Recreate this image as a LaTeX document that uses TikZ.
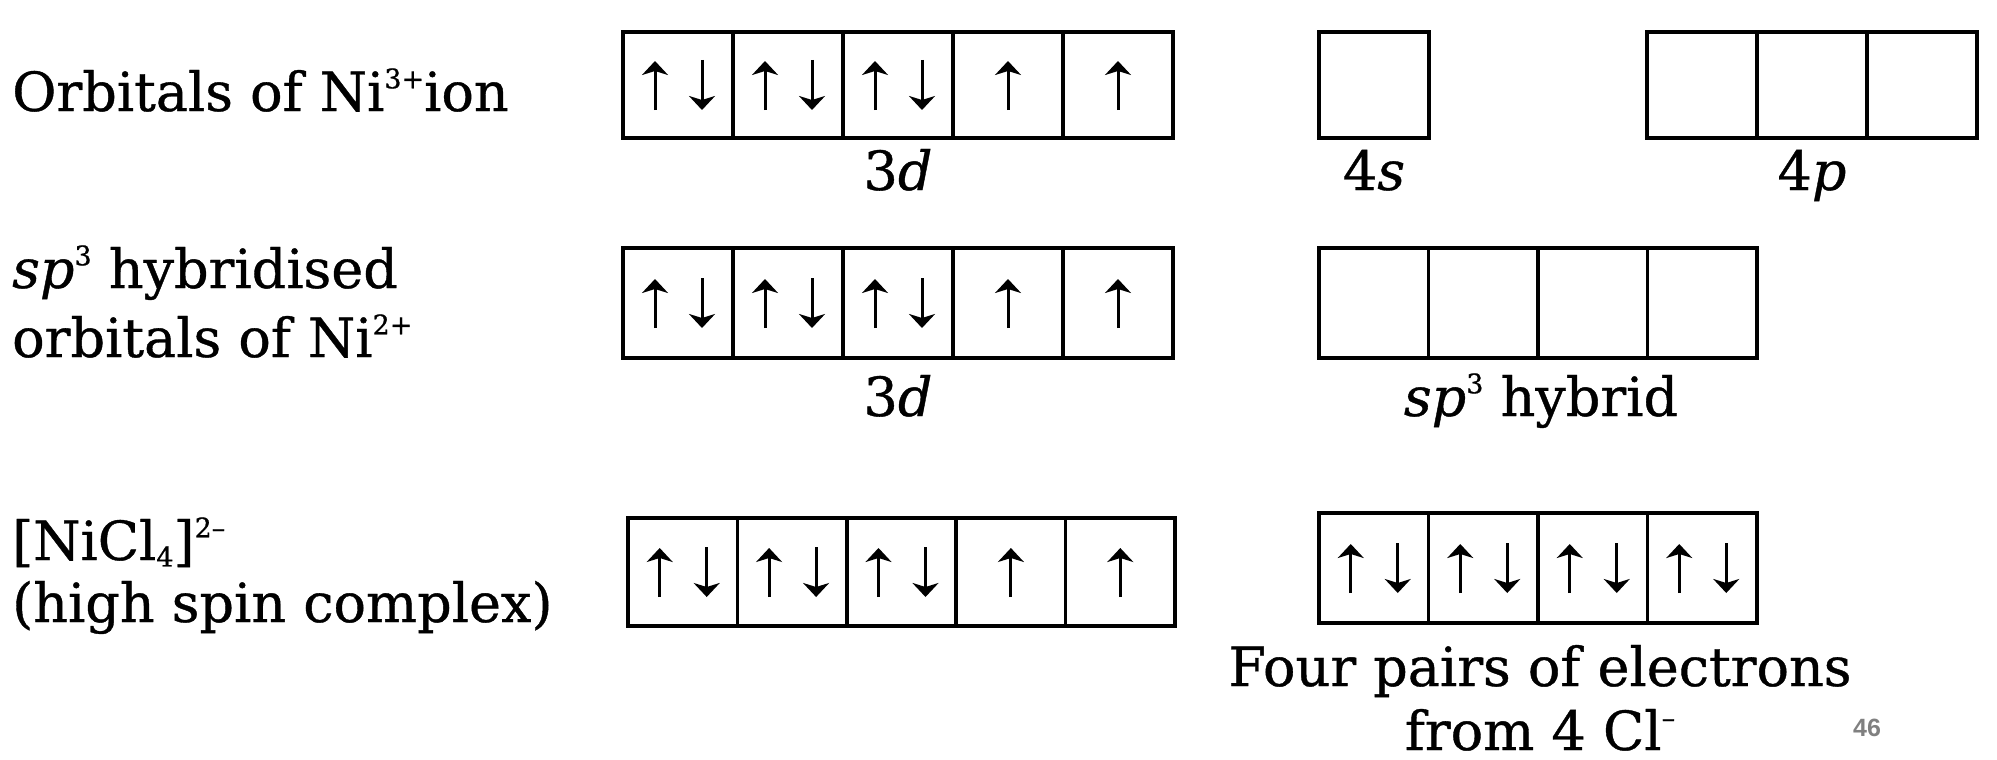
\documentclass[tikz,border=0pt]{standalone}
\usepackage{fontspec}
\setmainfont{DejaVu Serif}[FakeBold=0.7]
\newfontfamily\pgnumfont{Liberation Sans}
\usetikzlibrary{arrows.meta}
\definecolor{pgcol}{RGB}{128,128,128}
\newcommand\lblfont{\fontsize{54}{62}\selectfont}
\newcommand\supr[1]{\raisebox{0.42em}{\fontsize{27}{30}\selectfont #1}}
\newcommand\subr[1]{\raisebox{-0.12em}{\fontsize{27}{30}\selectfont #1}}
\newcommand\epair[1]{%
  \draw[el] ([xshift=-23pt,yshift=-25pt]#1.center) -- ([xshift=-23pt,yshift=24pt]#1.center);
  \draw[el] ([xshift=24pt,yshift=25pt]#1.center) -- ([xshift=24pt,yshift=-25pt]#1.center);}
\newcommand\eone[1]{%
  \draw[el] ([yshift=-25pt]#1.center) -- ([yshift=24pt]#1.center);}
\begin{document}
\begin{tikzpicture}[x=1pt,y=-1pt,
  cell/.style={draw, line width=3.5pt, inner sep=0pt, outer sep=0pt},
  el/.style={line width=3pt, -{Stealth[length=14pt,width=26pt,inset=4pt]}},
  lbl/.style={inner sep=0pt, font=\lblfont}]
\useasboundingbox (0,0) rectangle (1997,760);

% Row 1
\foreach \i in {1,...,5}
  \node[cell, minimum width=110pt, minimum height=106pt] (ad\i) at ({568+110*\i},85) {};
\node[cell, minimum width=110pt, minimum height=106pt] (as) at (1374,85) {};
\foreach \i in {1,2,3}
  \node[cell, minimum width=110pt, minimum height=106pt] (ap\i) at ({1592+110*\i},85) {};
\epair{ad1}\epair{ad2}\epair{ad3}\eone{ad4}\eone{ad5}

% Row 2
\foreach \i in {1,...,5}
  \node[cell, minimum width=110pt, minimum height=110pt] (bd\i) at ({568+110*\i},303) {};
\foreach \i in {1,...,4}
  \node[cell, minimum width=109.5pt, minimum height=110pt] (bh\i) at ({1264.25+109.5*\i},303) {};
\epair{bd1}\epair{bd2}\epair{bd3}\eone{bd4}\eone{bd5}

% Row 3
\foreach \i in {1,...,5}
  \node[cell, minimum width=109.4pt, minimum height=108pt] (cd\i) at ({573.3+109.4*\i},572) {};
\foreach \i in {1,...,4}
  \node[cell, minimum width=109.5pt, minimum height=110pt] (ch\i) at ({1264.25+109.5*\i},568) {};
\epair{cd1}\epair{cd2}\epair{cd3}\eone{cd4}\eone{cd5}
\epair{ch1}\epair{ch2}\epair{ch3}\epair{ch4}

% Left labels
\node[lbl, anchor=base west] (la) at (12,111) {Orbitals of Ni\supr{3+}ion};
\node[lbl, anchor=base west] (lb1) at (12,288) {\textit{sp}\supr{3} hybridised};
\node[lbl, anchor=base west] (lb2) at (12,357) {orbitals of Ni\supr{2+}};
\node[lbl, anchor=base west] (lc1) at (12,560) {[NiCl\subr{4}]\supr{2–}};
\node[lbl, anchor=base west] (lc2) at (12,622) {(high spin complex)};

% Orbital labels
\node[lbl, anchor=base] (ta1) at (898,190) {3\textit{d}};
\node[lbl, anchor=base] (ta2) at (1374,190) {4\textit{s}};
\node[lbl, anchor=base] (ta3) at (1812,190) {4\textit{p}};
\node[lbl, anchor=base] (tb1) at (898,416) {3\textit{d}};
\node[lbl, anchor=base] (tb2) at (1541,416) {\textit{sp}\supr{3} hybrid};
\node[lbl, anchor=base] (tc1) at (1540,686) {Four pairs of electrons};
\node[lbl, anchor=base] (tc2) at (1540,750) {from 4 Cl\supr{–}};

\node[inner sep=0pt, text=pgcol, font=\pgnumfont\bfseries\fontsize{25}{28}\selectfont] (pg) at (1867,728) {46};
\end{tikzpicture}
\end{document}
